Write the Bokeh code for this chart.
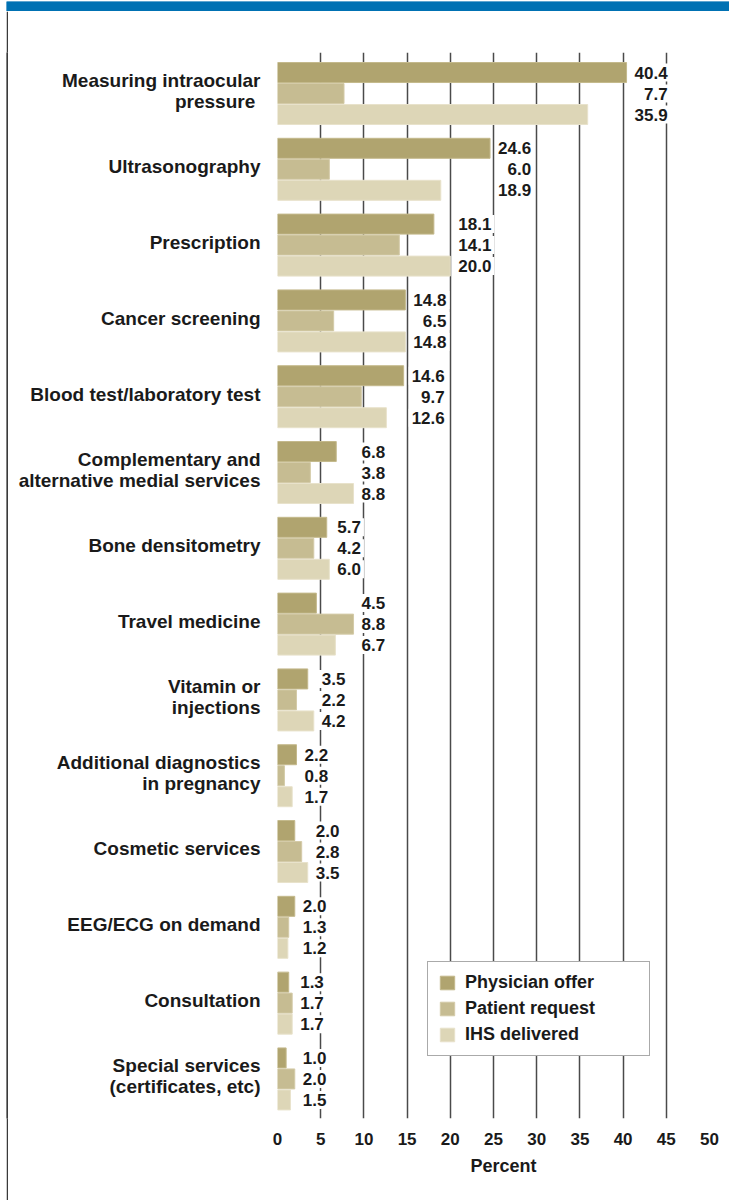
from bokeh.plotting import figure
from bokeh.models import Range1d, FixedTicker, ColumnDataSource, Legend, LegendItem, Spacer
from bokeh.layouts import column, row
from bokeh.core.properties import value
from bokeh.embed import file_html
from bokeh.resources import INLINE

# ---------------- data ----------------
categories = [
    "Measuring intraocular\npressure ",
    "Ultrasonography",
    "Prescription",
    "Cancer screening",
    "Blood test/laboratory test",
    "Complementary and\nalternative medial services",
    "Bone densitometry",
    "Travel medicine",
    "Vitamin or\ninjections",
    "Additional diagnostics\nin pregnancy",
    "Cosmetic services",
    "EEG/ECG on demand",
    "Consultation",
    "Special services\n(certificates, etc)",
]
physician_offer = [40.4, 24.6, 18.1, 14.8, 14.6, 6.8, 5.7, 4.5, 3.5, 2.2, 2.0, 2.0, 1.3, 1.0]
patient_request = [7.7, 6.0, 14.1, 6.5, 9.7, 3.8, 4.2, 8.8, 2.2, 0.8, 2.8, 1.3, 1.7, 2.0]
ihs_delivered = [35.9, 18.9, 20.0, 14.8, 12.6, 8.8, 6.0, 6.7, 4.2, 1.7, 3.5, 1.2, 1.7, 1.5]
series_names = ["Physician offer", "Patient request", "IHS delivered"]
x_ticks = [0, 5, 10, 15, 20, 25, 30, 35, 40, 45, 50]
x_title = "Percent"

# ---------------- style ----------------
FONT = "Liberation Sans"
fills = ["#b0a46f", "#c6bc92", "#ddd6b7"]
edges = ["#c4b98c", "#d4cba8", "#e8e2cb"]
TXT = "#1a1a1a"
GRID = "#4a4a4a"
BLUE = "#0071b3"
LABEL_SHIFT = -0.035   # category labels sit slightly above the group centre

n = len(categories)
idx = list(range(n))
bar_h = 0.264
step = 0.277
offsets = [-step, 0.0, step]

main = figure(width=721, height=1189, x_range=Range1d(0, 50),
              y_range=Range1d(n - 1 + 0.522, -0.541),
              output_backend="svg", toolbar_location=None,
              min_border_left=269, min_border_right=20,
              min_border_top=41, min_border_bottom=82,
              outline_line_color=None)

series = [physician_offer, patient_request, ihs_delivered]
renderers = []
for k, vals in enumerate(series):
    src = ColumnDataSource(dict(y=[i + offsets[k] for i in idx], right=vals))
    r = main.hbar(y="y", left=0, right="right", height=bar_h, source=src,
                  fill_color=fills[k], line_color=edges[k], line_width=1)
    renderers.append(r)

# value labels: right aligned column beside the longest bar in each group
def text_w(s, size=17.0):
    w = 0.0
    for ch in s:
        w += 0.278 if ch == "." else 0.556
    return w * size

lx, ly, lt, lo = [], [], [], []
for i in idx:
    vals = [s[i] for s in series]
    labels = ["%.1f" % v for v in vals]
    wmax = max(text_w(t) for t in labels)
    for k in range(3):
        lx.append(max(vals))
        ly.append(i + offsets[k])
        lt.append(labels[k])
        lo.append(11 + wmax)
lab_src = ColumnDataSource(dict(x=lx, y=ly, t=lt, xo=lo))
main.text(x="x", y="y", text="t", x_offset="xo", source=lab_src,
          text_align="right", text_baseline="middle",
          text_font=value(FONT), text_font_style="bold", text_font_size="17px",
          text_color=TXT, background_fill_color="white", padding=3)

# axes
main.xaxis.ticker = FixedTicker(ticks=x_ticks)
main.xgrid.ticker = FixedTicker(ticks=x_ticks)
main.xgrid.grid_line_color = GRID
main.xgrid.grid_line_width = 1.5
main.ygrid.visible = False
main.xaxis.axis_line_color = None
main.xaxis.major_tick_line_color = None
main.xaxis.minor_tick_line_color = None
main.xaxis.major_tick_out = 0
main.xaxis.major_tick_in = 0
main.xaxis.minor_tick_out = 0
main.xaxis.major_label_standoff = 14
main.xaxis.major_label_text_font = FONT
main.xaxis.major_label_text_font_style = "bold"
main.xaxis.major_label_text_font_size = "17px"
main.xaxis.major_label_text_color = TXT
main.xaxis.axis_label = "\u00a0\u00a0\u00a0\u00a0" + x_title
main.xaxis.axis_label_standoff = 8
main.xaxis.axis_label_text_font = FONT
main.xaxis.axis_label_text_font_style = "bold"
main.xaxis.axis_label_text_font_size = "18px"
main.xaxis.axis_label_text_color = TXT

label_ticks = [i + LABEL_SHIFT for i in idx]
main.yaxis.ticker = FixedTicker(ticks=label_ticks)
main.yaxis.major_label_overrides = {t: c for t, c in zip(label_ticks, categories)}
main.yaxis.axis_line_color = None
main.yaxis.major_tick_line_color = None
main.yaxis.minor_tick_line_color = None
main.yaxis.major_tick_out = 0
main.yaxis.major_tick_in = 0
main.yaxis.minor_tick_out = 0
main.yaxis.major_label_standoff = 17
main.yaxis.major_label_text_font = FONT
main.yaxis.major_label_text_font_style = "bold"
main.yaxis.major_label_text_font_size = "19px"
main.yaxis.major_label_text_line_height = 1.0
main.yaxis.major_label_text_color = TXT

legend = Legend(items=[LegendItem(label=series_names[k], renderers=[renderers[k]]) for k in range(3)],
                location=(150, 62), orientation="vertical",
                label_text_font=FONT, label_text_font_style="bold",
                label_text_font_size="18px", label_text_color=TXT,
                glyph_width=18, glyph_height=17, label_height=20, label_width=174,
                label_standoff=9, spacing=5, padding=10, margin=0,
                border_line_color="#555555", border_line_width=1.5,
                background_fill_color="white", background_fill_alpha=1.0)
main.add_layout(legend)

# blue band on top
band = figure(width=723, height=11, toolbar_location=None, output_backend="svg",
              min_border=0, x_range=Range1d(0, 1), y_range=Range1d(0, 1),
              background_fill_color=BLUE, border_fill_color=BLUE,
              outline_line_color=None)
band.quad(left=[0], right=[1], bottom=[0], top=[1], fill_color=BLUE, line_color=None)
band.axis.visible = False
band.grid.visible = False

# dark left border of the panel
side = figure(width=2, height=1189, toolbar_location=None, output_backend="svg",
              min_border=0, x_range=Range1d(0, 1), y_range=Range1d(0, 1),
              background_fill_color="#3a3a3a", border_fill_color="#3a3a3a",
              outline_line_color=None)
side.quad(left=[0], right=[1], bottom=[0], top=[1], fill_color="#3a3a3a", line_color=None)
side.axis.visible = False
side.grid.visible = False

p = column(row(Spacer(width=6, height=11), band),
           row(Spacer(width=6, height=1189), side, main))

open("out.html", "w").write(file_html(p, INLINE))
